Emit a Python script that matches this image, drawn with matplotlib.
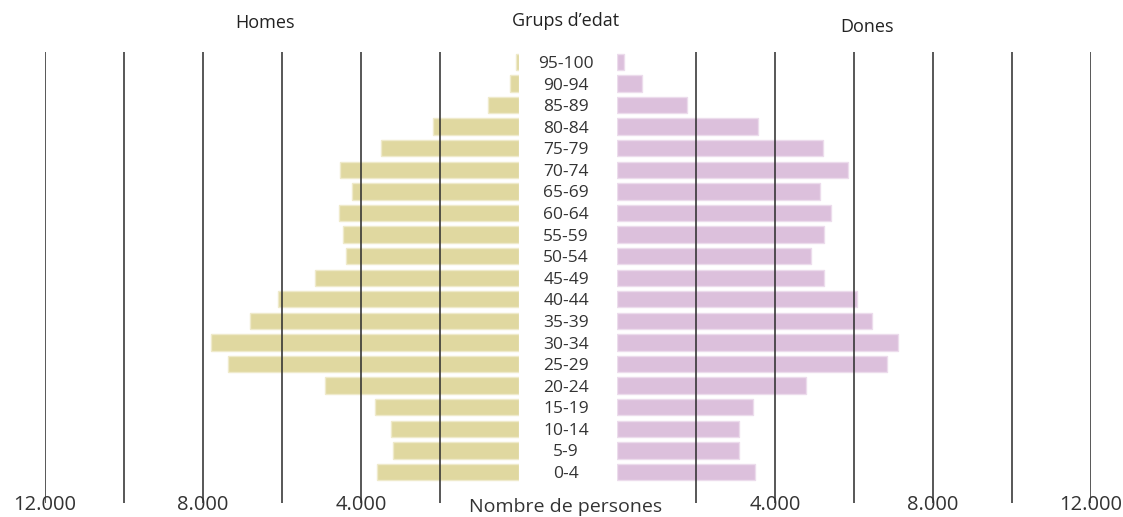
import matplotlib.pyplot as plt
import numpy as np

# grups d'edat, de baix a dalt
grups = ['0-4', '5-9', '10-14', '15-19', '20-24', '25-29', '30-34', '35-39',
         '40-44', '45-49', '50-54', '55-59', '60-64', '65-69', '70-74',
         '75-79', '80-84', '85-89', '90-94', '95-100']
homes = [3600, 3190, 3240, 3650, 4910, 7370, 7800, 6810, 6100, 5160,
         4380, 4460, 4560, 4230, 4530, 3490, 2180, 785, 230, 75]
dones = [3490, 3090, 3090, 3440, 4790, 6840, 7110, 6460, 6080, 5240,
         4910, 5240, 5420, 5140, 5850, 5220, 3570, 1770, 630, 180]
ticks = [2000, 4000, 6000, 8000, 10000, 12000]
tick_labels = ['', '4.000', '', '8.000', '', '12.000']

plt.rcParams['font.family'] = ['Open Sans', 'DejaVu Sans']

W, H = 1123, 517
fig = plt.figure(figsize=(W / 100, H / 100), dpi=100)

def px_box(x0, x1, y0, y1):
    return [x0 / W, 1 - y1 / H, (x1 - x0) / W, (y1 - y0) / H]

y = np.arange(len(grups))

axL = fig.add_axes(px_box(45, 519, 52, 503))
axR = fig.add_axes(px_box(617, 1091, 52, 503))

for ax, vals, col, edge in [(axL, homes, '#e0d8a0', '#efeacb'),
                            (axR, dones, '#dcc0dc', '#ecdcec')]:
    ax.barh(y, vals, height=0.76, color=col, edgecolor=edge, linewidth=1, zorder=2)
    for t in ticks:
        ax.axvline(t, color='#2a2a2a', lw=1.1, zorder=3)
    ax.set_xlim(0, 12000)
    ax.set_ylim(-1.44, 19.46)
    ax.axis('off')
    ax.patch.set_visible(False)

axL.set_xlim(12000, 0)

# etiquetes de l'eix
for t, lab in zip(ticks, tick_labels):
    if lab:
        fig.text((519 - t * 0.0395) / W, 1 - 515.5 / H, lab, ha='center', va='bottom',
                 fontsize=14.5, color='#333333')
        fig.text((617 + t * 0.0395) / W, 1 - 515.5 / H, lab, ha='center', va='bottom',
                 fontsize=14.5, color='#333333')

fig.text(566 / W, 1 - 515.5 / H, 'Nombre de persones', ha='center', va='bottom',
         fontsize=14, color='#333333')

# grups d'edat al centre
for yi, g in zip(y, grups):
    yp = 474 - yi * 21.58
    fig.text(566 / W, 1 - yp / H, g, ha='center', va='center', fontsize=12.5,
             color='#333333')

fig.text(265 / W, 1 - 23 / H, 'Homes', ha='center', va='center', fontsize=13, color='#222222')
fig.text(566 / W, 1 - 21 / H, 'Grups d\u2019edat', ha='center', va='center', fontsize=13, color='#222222')
fig.text(867 / W, 1 - 27 / H, 'Dones', ha='center', va='center', fontsize=13, color='#222222')

fig.savefig('out.png', dpi=100)
